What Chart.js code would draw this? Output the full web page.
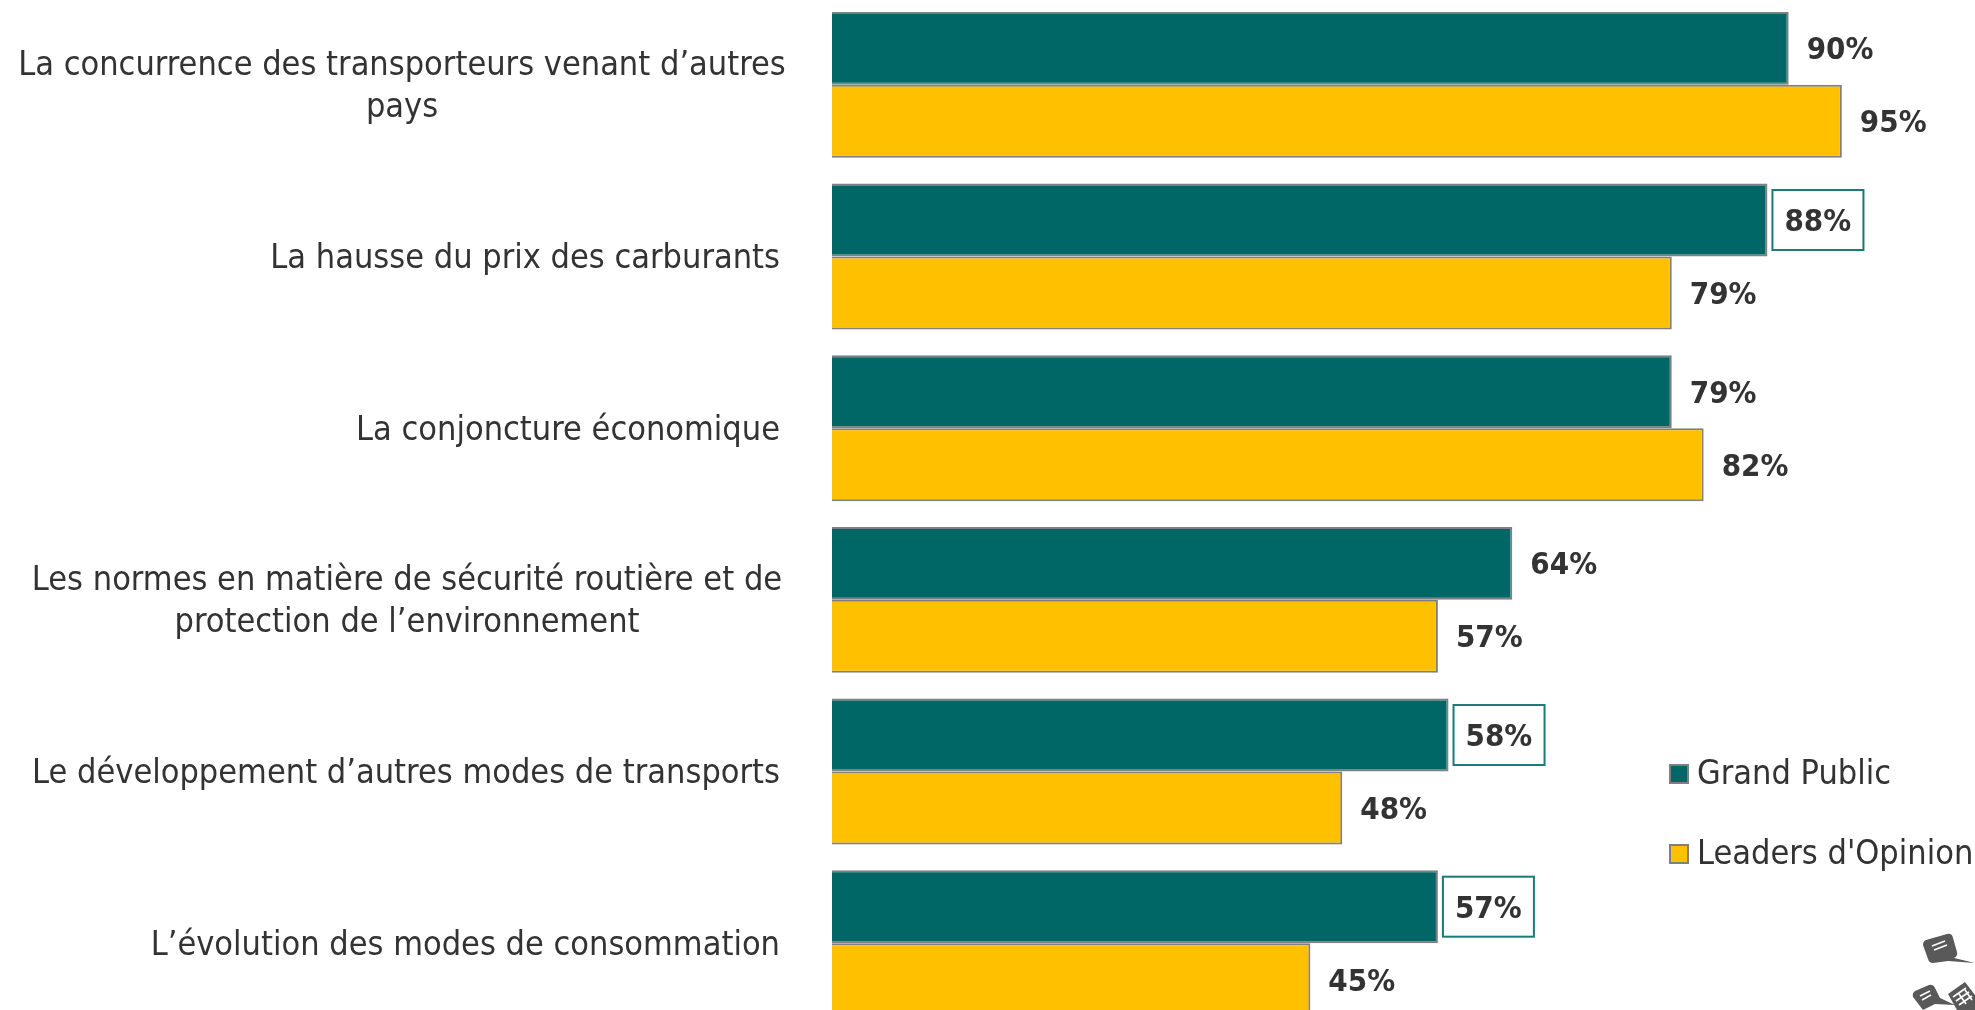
<!DOCTYPE html>
<html lang="fr">
<head>
<meta charset="utf-8">
<title>Grand Public / Leaders d'Opinion</title>
<script src="https://cdn.jsdelivr.net/npm/chart.js@4/dist/chart.umd.min.js"></script>
<style>
  html, body { margin: 0; padding: 0; background: #fff; overflow: hidden; }
  #chart { position: absolute; left: 0; top: -1px; }
  #icon { position: absolute; left: 1905px; top: 925px; }
</style>
</head>
<body>
<canvas id="chart" width="1975" height="1030"></canvas>
<svg id="icon" width="70" height="85" viewBox="0 0 70 85">
  <g fill="#595959">
    <path d="M21 15 L42 9 Q47 8 48 13 L52 27 Q53 31 49 33 L70 38 L43 36 L28 38 Q24 38 23 34 L18 20 Q18 16 21 15 Z"/>
    <path d="M10 66 L24 60 Q28 59 30 63 L35 73 L50 80 L30 79 L18 85 L8 72 Q7 68 10 66 Z"/>
    <path d="M43 69 L60 57 L70 70 L70 85 L52 85 Z"/>
  </g>
  <g stroke="#fff" stroke-width="1.6" fill="none">
    <path d="M27 21 L40 16 M29 25 L42 20"/>
    <path d="M15 71 L25 66 M17 75 L26 70"/>
    <path d="M48 72 L61 63 M51 76 L64 67 M54 80 L67 71 M54 69 L61 79 M60 65 L67 75"/>
  </g>
</svg>
<script>
const categories = [
  ['La concurrence des transporteurs venant d\u2019autres', 'pays'],
  'La hausse du prix des carburants',
  'La conjoncture \u00e9conomique',
  ['Les normes en mati\u00e8re de s\u00e9curit\u00e9 routi\u00e8re et de', 'protection de l\u2019environnement'],
  'Le d\u00e9veloppement d\u2019autres modes de transports',
  'L\u2019\u00e9volution des modes de consommation'
];
const grandPublic = [90, 88, 79, 64, 58, 57];
const leadersOpinion = [95, 79, 82, 57, 48, 45];
const boxedGrandPublic = [false, true, false, false, true, true];

const textColor = '#333333';
const labelFont = '34px "DejaVu Sans Condensed", "DejaVu Sans", sans-serif';
const valueFont = 'bold 31px "DejaVu Sans Condensed", "DejaVu Sans", sans-serif';

// Category labels: two-line ones are centred, single lines sit flush right
const categoryLabels = {
  id: 'categoryLabels',
  afterDraw(chart) {
    const ctx = chart.ctx;
    const yScale = chart.scales.y;
    ctx.save();
    ctx.font = labelFont;
    ctx.fillStyle = textColor;
    ctx.textBaseline = 'middle';
    categories.forEach((label, i) => {
      const y = yScale.getPixelForValue(i);
      if (Array.isArray(label)) {
        const centre = i === 0 ? 402 : 407;
        ctx.textAlign = 'center';
        ctx.fillText(label[0], centre, y - 19);
        ctx.fillText(label[1], centre, y + 23);
      } else {
        ctx.textAlign = 'right';
        ctx.fillText(label, 780, y + 3);
      }
    });
    ctx.restore();
  }
};

// Value labels at the end of each bar, some of them in a teal frame
const valueLabels = {
  id: 'valueLabels',
  afterDatasetsDraw(chart) {
    const ctx = chart.ctx;
    ctx.save();
    ctx.font = valueFont;
    ctx.textBaseline = 'middle';
    chart.data.datasets.forEach((dataset, d) => {
      chart.getDatasetMeta(d).data.forEach((bar, i) => {
        const boxed = d === 0 && boxedGrandPublic[i];
        if (boxed) {
          ctx.fillStyle = '#fff';
          ctx.strokeStyle = '#1a7a78';
          ctx.lineWidth = 2;
          ctx.fillRect(bar.x + 5, bar.y - 30, 91, 60);
          ctx.strokeRect(bar.x + 5, bar.y - 30, 91, 60);
        }
        ctx.fillStyle = textColor;
        ctx.textAlign = 'left';
        ctx.fillText(dataset.data[i] + '%', bar.x + (boxed ? 17 : 18), bar.y + 3);
      });
    });
    ctx.restore();
  }
};

// Legend at the lower right, the built-in one cannot get the text this close to the swatch
const sideLegend = {
  id: 'sideLegend',
  afterDraw(chart) {
    const ctx = chart.ctx;
    ctx.save();
    ctx.font = labelFont;
    ctx.textAlign = 'left';
    ctx.textBaseline = 'middle';
    chart.data.datasets.forEach((dataset, d) => {
      const y = 776 + d * 80;
      ctx.fillStyle = dataset.backgroundColor;
      ctx.strokeStyle = dataset.borderColor;
      ctx.lineWidth = 2;
      ctx.fillRect(1670, y - 10, 18, 18);
      ctx.strokeRect(1670, y - 10, 18, 18);
      ctx.fillStyle = textColor;
      ctx.fillText(dataset.label, 1697, y);
    });
    ctx.restore();
  }
};

new Chart(document.getElementById('chart'), {
  type: 'bar',
  data: {
    labels: categories,
    datasets: [
      {
        label: 'Grand Public',
        data: grandPublic,
        backgroundColor: '#006666',
        borderColor: '#7f7f7f',
        borderWidth: 2
      },
      {
        label: "Leaders d'Opinion",
        data: leadersOpinion,
        backgroundColor: '#ffc000',
        borderColor: '#7f7f7f',
        borderWidth: 2
      }
    ]
  },
  options: {
    indexAxis: 'y',
    responsive: false,
    animation: false,
    categoryPercentage: 0.85,
    barPercentage: 1,
    layout: { padding: { left: 832, right: 80, top: 0, bottom: 0 } },
    scales: {
      x: { display: false, min: 0, max: 100 },
      y: { display: false }
    },
    plugins: {
      tooltip: { enabled: false },
      legend: { display: false }
    }
  },
  plugins: [categoryLabels, valueLabels, sideLegend]
});
</script>
</body>
</html>
